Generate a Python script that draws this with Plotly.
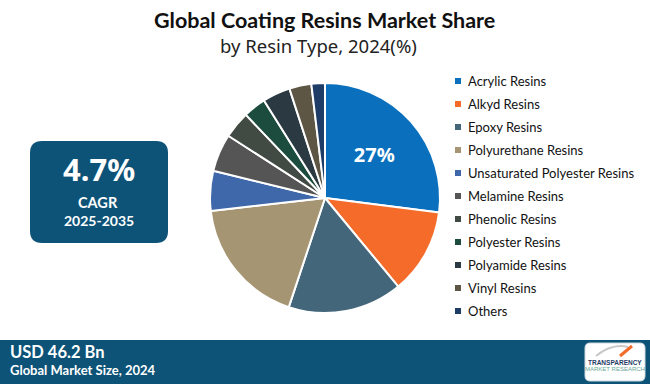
import plotly.graph_objects as go

labels = ["Acrylic Resins", "Alkyd Resins", "Epoxy Resins", "Polyurethane Resins",
          "Unsaturated Polyester Resins", "Melamine Resins", "Phenolic Resins",
          "Polyester Resins", "Polyamide Resins", "Vinyl Resins", "Others"]
shares = [27.0, 12.0, 16.1, 18.1, 5.6, 5.3, 3.8, 3.2, 3.9, 3.1, 1.9]
colors = ["#0a70bd", "#f46b2a", "#44667a", "#a59573", "#3e68aa", "#555555",
          "#414a43", "#1c4c3e", "#2b3a42", "#5d5644", "#1f3c66"]
slice_text = ["27%"] + [""] * 10

W, H = 650, 384


def px(x):
    return x / W


def py(y):
    return 1 - y / H


def rounded(x0, x1, y0, y1, r):
    return (f"M {px(x0 + r)},{py(y0)} L {px(x1 - r)},{py(y0)} "
            f"Q {px(x1)},{py(y0)} {px(x1)},{py(y0 + r)} L {px(x1)},{py(y1 - r)} "
            f"Q {px(x1)},{py(y1)} {px(x1 - r)},{py(y1)} L {px(x0 + r)},{py(y1)} "
            f"Q {px(x0)},{py(y1)} {px(x0)},{py(y1 - r)} L {px(x0)},{py(y0 + r)} "
            f"Q {px(x0)},{py(y0)} {px(x0 + r)},{py(y0)} Z")


fig = go.Figure()
fig.add_trace(go.Pie(
    labels=labels, values=shares, sort=False, direction="clockwise", rotation=0,
    marker=dict(colors=colors, line=dict(color="white", width=2)),
    text=slice_text, textinfo="text", textposition="inside",
    insidetextfont=dict(family="Noto Sans", size=20, color="white", weight="bold"),
    hoverinfo="label+value", showlegend=False,
    domain=dict(x=[px(325 - 115), px(325 + 115)], y=[py(198 + 115), py(198 - 115)]),
))

shapes = []
ann = []
# legend
for i, (lab, col) in enumerate(zip(labels, colors)):
    yc = 81 + 23 * i
    shapes.append(dict(type="rect", xref="paper", yref="paper",
                       x0=px(455), x1=px(461), y0=py(yc + 3), y1=py(yc - 3),
                       fillcolor=col, line=dict(width=0)))
    ann.append(dict(x=px(466), y=py(yc), xref="paper", yref="paper", text=lab,
                    showarrow=False, xanchor="left", yanchor="middle",
                    font=dict(family="Lato", size=13, color="#111111")))

# title
ann.append(dict(x=px(324), y=py(20), xref="paper", yref="paper",
                text="<b>Global Coating Resins Market Share</b>", showarrow=False,
                xanchor="center", yanchor="middle",
                font=dict(family="Lato", size=21.5, color="#111111")))
ann.append(dict(x=px(318), y=py(45), xref="paper", yref="paper",
                text="by Resin Type, 2024(%)", showarrow=False,
                xanchor="center", yanchor="middle",
                font=dict(family="Noto Sans", size=18.5, color="#222222")))

# CAGR box
box_col = "#0d5378"
shapes.append(dict(type="path", xref="paper", yref="paper", path=rounded(30, 168, 141, 243, 12),
                   fillcolor=box_col, line=dict(width=0)))
ann.append(dict(x=px(99), y=py(169), xref="paper", yref="paper", text="<b>4.7%</b>",
                showarrow=False, xanchor="center", yanchor="middle",
                font=dict(family="Noto Sans", size=31, color="white")))
ann.append(dict(x=px(98), y=py(202), xref="paper", yref="paper", text="<b>CAGR</b>",
                showarrow=False, xanchor="center", yanchor="middle",
                font=dict(family="Lato", size=14.5, color="white")))
ann.append(dict(x=px(99), y=py(220), xref="paper", yref="paper", text="<b>2025-2035</b>",
                showarrow=False, xanchor="center", yanchor="middle",
                font=dict(family="Lato", size=14, color="white")))

# bottom banner
shapes.append(dict(type="rect", xref="paper", yref="paper", x0=0, x1=1, y0=0, y1=py(340),
                   fillcolor=box_col, line=dict(width=0)))
ann.append(dict(x=px(8), y=py(352), xref="paper", yref="paper", text="<b>USD 46.2 Bn</b>",
                showarrow=False, xanchor="left", yanchor="middle",
                font=dict(family="Lato", size=16.5, color="white")))
ann.append(dict(x=px(8), y=py(370), xref="paper", yref="paper", text="Global Market Size, 2024",
                showarrow=False, xanchor="left", yanchor="middle",
                font=dict(family="Lato", size=13, color="white", weight="bold")))

# logo
shapes.append(dict(type="path", xref="paper", yref="paper", path=rounded(585, 645, 343, 381, 5),
                   fillcolor="white", line=dict(color="#cfd8dc", width=1)))
shapes.append(dict(type="path", xref="paper", yref="paper",
                   path=f"M {px(596)},{py(356)} Q {px(612)},{py(343)} {px(628)},{py(347)}",
                   line=dict(color="#c8c8c8", width=2)))
shapes.append(dict(type="path", xref="paper", yref="paper",
                   path=f"M {px(620)},{py(356)} L {px(632)},{py(346)}",
                   line=dict(color="#f26b2a", width=3)))
ann.append(dict(x=px(615), y=py(362), xref="paper", yref="paper", text="<b>TRANSPARENCY</b>",
                showarrow=False, xanchor="center", yanchor="middle",
                font=dict(family="Liberation Sans Narrow, Liberation Sans", size=6.5, color="#1f3c66")))
ann.append(dict(x=px(615), y=py(369), xref="paper", yref="paper", text="MARKET RESEARCH",
                showarrow=False, xanchor="center", yanchor="middle",
                font=dict(family="Liberation Sans Narrow, Liberation Sans", size=6, color="#6aa89a")))

fig.update_layout(width=W, height=H, margin=dict(l=0, r=0, t=0, b=0),
                  paper_bgcolor="white", plot_bgcolor="white",
                  shapes=shapes, annotations=ann)
fig.write_html("out.html", config={"displayModeBar": False},
               post_script="document.body.style.margin='0';document.body.style.overflow='hidden';")
